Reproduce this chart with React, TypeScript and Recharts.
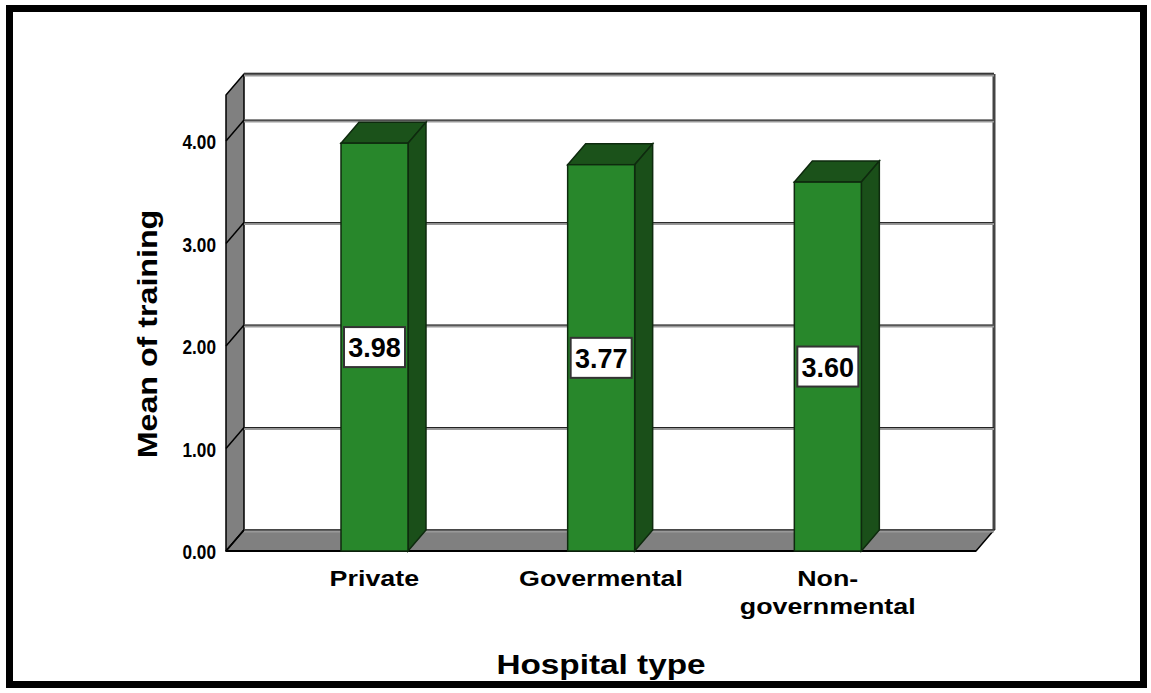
import { ComposedChart, Bar, XAxis, YAxis, CartesianGrid, ReferenceArea, LabelList, Label } from 'recharts';

// values
const categories = ['Private', 'Govermental', 'Non-governmental'];
const means = [3.98, 3.77, 3.6];
const yTicks = [0, 1, 2, 3, 4];
const yMax = 4.45;

const data = categories.map((c, i) => ({ type: c, mean: means[i] }));

// depth offset of the fake 3D box
const DX = 18;
const DY = -21;
const PAD = 35; // x axis padding, the walls cover it too
const SANS = "'Liberation Sans', Arial, Helvetica, sans-serif";

function Walls(props: any) {
    const x = props.x - PAD;
    const w = props.width + 2 * PAD;
    const { y, height: h } = props;
    const b = y + h;
    return (
        <g>
            <rect x={x + DX} y={y + DY} width={w} height={h} fill="#fff" />
            <line x1={x + DX} y1={y + DY} x2={x + w + DX} y2={y + DY} stroke="#000" strokeWidth={2.5} />
            <line x1={x + w + DX} y1={y + DY} x2={x + w + DX} y2={b + DY} stroke="#444" strokeWidth={3} />
            <polygon
                points={`${x},${b} ${x},${y} ${x + DX},${y + DY} ${x + DX},${b + DY}`}
                fill="#808080" stroke="#000" strokeWidth={1.5} strokeLinejoin="round"
            />
            <polygon
                points={`${x},${b} ${x + DX},${b + DY} ${x + w + DX},${b + DY} ${x + w},${b}`}
                fill="#808080" stroke="#000" strokeWidth={1.5} strokeLinejoin="round"
            />
            <line x1={x} y1={b} x2={x + w} y2={b} stroke="#000" strokeWidth={2} />
        </g>
    );
}

function GridLine(props: any) {
    const { x1, y1, x2 } = props;
    return (
        <g key={props.key}>
            <line x1={x1 + DX} y1={y1 + DY + 1} x2={x2 + DX} y2={y1 + DY + 1} stroke="#999" strokeWidth={3} />
            <line x1={x1 + DX} y1={y1 + DY} x2={x2 + DX} y2={y1 + DY} stroke="#222" strokeWidth={1} />
        </g>
    );
}

function Bar3D(props: any) {
    const { x, y, width, height } = props;
    const edge = '#0e2a0e';
    return (
        <g>
            <polygon
                points={`${x},${y} ${x + DX},${y + DY} ${x + width + DX},${y + DY} ${x + width},${y}`}
                fill="#1b521a" stroke={edge} strokeWidth={1.5}
            />
            <polygon
                points={`${x + width},${y} ${x + width + DX},${y + DY} ${x + width + DX},${y + height + DY} ${x + width},${y + height}`}
                fill="#1a4f19" stroke={edge} strokeWidth={1.5}
            />
            <rect x={x} y={y} width={width} height={height} fill="#28872b" stroke={edge} strokeWidth={1.5} />
        </g>
    );
}

function ValueBox(props: any) {
    const { x, y, width, height, value } = props;
    const cx = x + width / 2;
    const cy = y + height / 2;
    return (
        <g>
            <rect x={cx - 30.5} y={cy - 20} width={61} height={40} fill="#fff" stroke="#333" strokeWidth={2} />
            <text x={cx} y={cy + 1} textAnchor="middle" dominantBaseline="central" fontFamily={SANS} fontWeight="bold" fontSize={27} fill="#000">
                {Number(value).toFixed(2)}
            </text>
        </g>
    );
}

function YTick(props: any) {
    const { x, y, payload } = props;
    return (
        <g>
            <line x1={x} y1={y} x2={x + DX} y2={y + DY} stroke="#000" strokeWidth={1.5} />
            <text transform={`translate(${x - 10} ${y + 1}) scale(0.82 1)`} textAnchor="end" dominantBaseline="central"
                fontFamily={SANS} fontWeight="bold" fontSize={21} fill="#000">
                {Number(payload.value).toFixed(2)}
            </text>
        </g>
    );
}

// SPSS renders the labels horizontally stretched
function XTick(props: any) {
    const { x, y, payload } = props;
    const lines = String(payload.value).replace('-', '-\n').split('\n');
    return (
        <g transform={`translate(${x} ${y}) scale(1.22 1)`}>
            <text x={0} y={0} textAnchor="middle" fontFamily={SANS} fontWeight="bold" fontSize={22} fill="#000">
                {lines.map((l, i) => (
                    <tspan key={i} x={0} dy={i === 0 ? 35 : 28}>{l}</tspan>
                ))}
            </text>
        </g>
    );
}

const yTitle = (p: any) => {
    const vb = p.viewBox;
    const cx = vb.x + 21;
    const cy = 334;
    return (
        <text transform={`translate(${cx} ${cy}) rotate(-90) scale(1.15 1)`} textAnchor="middle" dominantBaseline="central"
            fontFamily={SANS} fontWeight="bold" fontSize={28} fill="#000">
            Mean of training
        </text>
    );
};

const xTitle = (p: any) => {
    const vb = p.viewBox;
    return (
        <text transform={`translate(${vb.x + vb.width / 2} 664) scale(1.19 1)`} textAnchor="middle" dominantBaseline="central"
            fontFamily={SANS} fontWeight="bold" fontSize={28} fill="#000">
            Hospital type
        </text>
    );
};

export default function App() {
    return (
        <div style={{ position: 'fixed', top: 0, left: 0, width: 1151, height: 693, background: '#fff', overflow: 'hidden' }}>
            <div style={{ position: 'absolute', left: 6, top: 5, width: 1141, height: 683, border: '7px solid #000', boxSizing: 'border-box' }} />
            <div style={{ position: 'absolute', left: 0, top: 0 }}>
                <ComposedChart width={1151} height={693} data={data} margin={{ top: 95, right: 175, bottom: 82, left: 126 }}>
                    <ReferenceArea y1={0} y2={yMax} shape={<Walls />} zIndex={-150} />
                    <CartesianGrid vertical={false} horizontal={GridLine} />
                    <Bar dataKey="mean" barSize={67} shape={<Bar3D />} isAnimationActive={false}>
                        <LabelList dataKey="mean" content={<ValueBox />} />
                    </Bar>
                    <XAxis dataKey="type" height={60} axisLine={false} tickLine={false} tickSize={0} tickMargin={0}
                        padding={{ left: PAD, right: PAD }} tick={<XTick />} interval={0}>
                        <Label content={xTitle} />
                    </XAxis>
                    <YAxis width={100} domain={[0, yMax]} ticks={yTicks} axisLine={false} tickLine={false}
                        tickSize={0} tickMargin={0} tick={<YTick />} interval={0}>
                        <Label content={yTitle} />
                    </YAxis>
                </ComposedChart>
            </div>
        </div>
    );
}
